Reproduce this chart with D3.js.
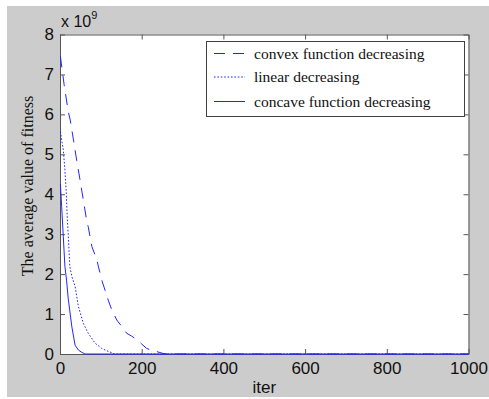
<!DOCTYPE html>
<html>
<head>
<meta charset="utf-8">
<script src="https://cdn.jsdelivr.net/npm/d3@7"></script>
<style>
  body { margin: 0; background: #fff; }
  svg { display: block; }
</style>
</head>
<body>
<svg id="chart" width="489" height="399"></svg>
<script>
// values (y in units of 1e9)
const iterConvex = [1, 10, 20, 25, 33, 41, 49, 57, 65, 69, 78, 90, 102, 118, 127, 139, 155, 163, 175, 188, 200, 212, 225, 237, 250, 260, 1000];
const convexValues = [7.45, 6.75, 6.08, 5.86, 5.36, 4.84, 4.36, 3.86, 3.36, 3.19, 2.69, 2.36, 1.86, 1.35, 1.1, 0.85, 0.64, 0.52, 0.45, 0.36, 0.25, 0.14, 0.09, 0.06, 0.02, 0, 0];

const iterLinear = [1, 5, 8, 12, 15, 18, 20, 24, 29, 37, 45, 57, 69, 86, 102, 115, 127, 133, 1000];
const linearValues = [5.57, 5.3, 5.11, 4.61, 4.11, 3.36, 3.02, 2.19, 1.94, 1.69, 1.19, 0.77, 0.52, 0.27, 0.14, 0.08, 0.03, 0, 0];

const iterConcave = [1, 4, 8, 12, 16, 20, 25, 29, 33, 37, 45, 52, 61, 1000];
const concaveValues = [4.25, 3.7, 2.95, 2.2, 1.85, 1.4, 1.0, 0.68, 0.45, 0.22, 0.1, 0.05, 0, 0];

const xTicks = [0, 200, 400, 600, 800, 1000];
const yTicks = [0, 1, 2, 3, 4, 5, 6, 7, 8];
const legendLabels = ['convex function decreasing', 'linear decreasing', 'concave function decreasing'];

const svg = d3.select('#chart');

// grey figure background
svg.append('rect')
  .attr('x', 7).attr('y', 6)
  .attr('width', 482).attr('height', 391)
  .attr('fill', '#cccccc');

const plot = {left: 60, top: 34.5, right: 468.5, bottom: 354};

const x = d3.scaleLinear().domain([0, 1000]).range([plot.left, plot.right]);
const y = d3.scaleLinear().domain([0, 8]).range([plot.bottom, plot.top]);

svg.append('rect') //white axes area
  .attr('x', plot.left).attr('y', plot.top)
  .attr('width', plot.right - plot.left).attr('height', plot.bottom - plot.top)
  .attr('fill', '#fff');

const tickLen = 5;
const axisColor = '#555';

// axes with inward ticks on all four sides
const bottomAxis = svg.append('g')
  .attr('transform', 'translate(0,' + plot.bottom + ')')
  .call(d3.axisBottom(x).tickValues(xTicks).tickFormat(d3.format('d')).tickSizeInner(-tickLen).tickSizeOuter(0).tickPadding(8));
const topAxis = svg.append('g')
  .attr('transform', 'translate(0,' + plot.top + ')')
  .call(d3.axisTop(x).tickValues(xTicks).tickSizeInner(-tickLen).tickSizeOuter(0).tickFormat(''));
const leftAxis = svg.append('g')
  .attr('transform', 'translate(' + plot.left + ',0)')
  .call(d3.axisLeft(y).tickValues(yTicks).tickFormat(d3.format('d')).tickSizeInner(-tickLen).tickSizeOuter(0).tickPadding(6));
const rightAxis = svg.append('g')
  .attr('transform', 'translate(' + plot.right + ',0)')
  .call(d3.axisRight(y).tickValues(yTicks).tickSizeInner(-tickLen).tickSizeOuter(0).tickFormat(''));

[bottomAxis, topAxis, leftAxis, rightAxis].forEach(function(ax) {
  ax.select('.domain').attr('stroke', axisColor);
  ax.selectAll('.tick line').attr('stroke', axisColor);
  ax.selectAll('.tick text')
    .attr('fill', '#111')
    .attr('font-family', 'Liberation Sans, Arial, sans-serif')
    .attr('font-size', 17);
});
bottomAxis.selectAll('.tick text').attr('dy', '0.71em');

// the three series
const series = [
  {iters: iterConvex, values: convexValues, dash: '11,8'},
  {iters: iterLinear, values: linearValues, dash: '1.6,1.8'},
  {iters: iterConcave, values: concaveValues, dash: null}
];

const line = d3.line()
  .x(function(d) { return x(d[0]); })
  .y(function(d) { return y(d[1]); });

series.forEach(function(s) {
  svg.append('path')
    .datum(d3.zip(s.iters, s.values))
    .attr('fill', 'none')
    .attr('stroke', '#2424ff')
    .attr('stroke-width', 1)
    .attr('stroke-dasharray', s.dash)
    .attr('d', line);
});

// exponent label
const expo = svg.append('text')
  .attr('x', 61).attr('y', 26.5)
  .attr('font-family', 'Liberation Sans, Arial, sans-serif')
  .attr('font-size', 16)
  .attr('fill', '#111');
expo.append('tspan').text('x 10');
expo.append('tspan')
  .attr('font-size', 11)
  .attr('dy', -8)
  .text('9');

// axis labels
svg.append('text')
  .attr('x', (plot.left + plot.right) / 2)
  .attr('y', 393)
  .attr('text-anchor', 'middle')
  .attr('font-family', 'Liberation Sans, Arial, sans-serif')
  .attr('font-size', 17)
  .attr('fill', '#111')
  .text('iter');

svg.append('text')
  .attr('transform', 'translate(33,186) rotate(-90)')
  .attr('text-anchor', 'middle')
  .attr('font-family', 'Liberation Serif, Times New Roman, serif')
  .attr('font-size', 16)
  .attr('fill', '#111')
  .text('The average value of  fitness');

// legend
const legend = svg.append('g');
legend.append('rect')
  .attr('x', 206.5).attr('y', 41.5)
  .attr('width', 258).attr('height', 75)
  .attr('fill', '#fff')
  .attr('stroke', '#404040');

const rowY = [53.5, 77, 101.5];
legendLabels.forEach(function(label, i) {
  legend.append('line')
    .attr('x1', 214).attr('x2', 245)
    .attr('y1', rowY[i]).attr('y2', rowY[i])
    .attr('stroke', '#2424ff')
    .attr('stroke-width', 1)
    .attr('stroke-dasharray', series[i].dash);
  legend.append('text')
    .attr('x', 254).attr('y', rowY[i] + 5)
    .attr('font-family', 'Liberation Serif, Times New Roman, serif')
    .attr('font-size', 15.5)
    .attr('fill', '#111')
    .text(label);
});
</script>
</body>
</html>
